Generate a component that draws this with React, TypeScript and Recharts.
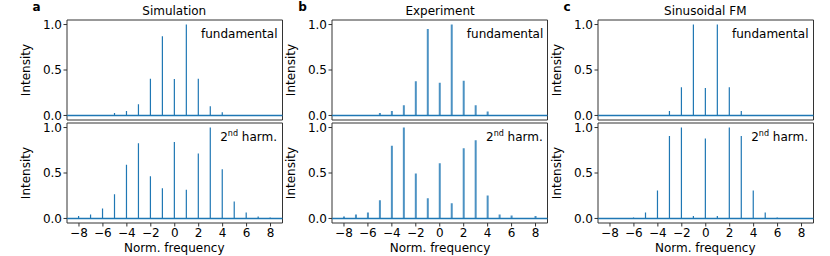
import React from 'react';
import { ComposedChart, Bar, XAxis, YAxis, ReferenceLine, ReferenceArea } from 'recharts';

const freqs = [-8, -7, -6, -5, -4, -3, -2, -1, 0, 1, 2, 3, 4, 5, 6, 7, 8];

const simFund = [0, 0, 0, 0.026, 0.05, 0.124, 0.405, 0.872, 0.4, 1.0, 0.405, 0.1, 0.036, 0, 0, 0, 0];
const simHarm = [0.026, 0.044, 0.11, 0.267, 0.59, 0.828, 0.465, 0.333, 0.84, 0.315, 0.714, 1.0, 0.54, 0.187, 0.066, 0.022, 0.01];
const expFund = [0, 0, 0, 0.026, 0.05, 0.113, 0.376, 0.95, 0.36, 1.0, 0.383, 0.113, 0.044, 0, 0, 0, 0];
const expHarm = [0.022, 0.044, 0.066, 0.2, 0.8, 1.0, 0.494, 0.223, 0.608, 0.168, 0.773, 0.86, 0.253, 0.044, 0.033, 0, 0.026];
const fmFund = [0, 0, 0, 0, 0, 0.05, 0.31, 1.0, 0.303, 1.0, 0.31, 0.05, 0, 0, 0, 0, 0];
const fmHarm = [0, 0, 0.01, 0.066, 0.308, 0.908, 1.0, 0.026, 0.88, 0.026, 1.0, 0.908, 0.308, 0.066, 0.01, 0, 0];

const xTicks = [-8, -6, -4, -2, 0, 2, 4, 6, 8];
const yTicks = [0, 0.5, 1];
const titles = ['Simulation', 'Experiment', 'Sinusoidal FM'];
const letters = ['a', 'b', 'c'];
const yLabel = 'Intensity';
const xLabel = 'Norm. frequency';
const topNote = 'fundamental';

const FONT = '"DejaVu Sans", sans-serif';
const BLUE = '#1f77b4';
const SPINE = '#333';

const PANEL_LEFTS = [66.5, 332.3, 597.5];
const PLOT_W = 215.5;
const PLOT_H = 100;
const ROW_TOPS = [19.8, 122.8];

function Panel({ values, left, top, bottomRow, stemWidth, stemOpacity }: any) {
  const data = freqs.map((f, i) => ({ f, v: values[i] }));
  const M = 2;
  const YW = 60;
  const xh = bottomRow ? 22 : 0;
  return (
    <div style={{ position: 'absolute', left: left - YW - M, top: top - M }}>
      <ComposedChart
        width={YW + PLOT_W + 2 * M}
        height={PLOT_H + 2 * M + xh}
        data={data}
        margin={{ top: M, right: M, bottom: M, left: M }}
      >
        <XAxis
          dataKey="f"
          type="number"
          domain={[-9, 9]}
          ticks={xTicks}
          interval={0}
          allowDataOverflow
          hide={!bottomRow}
          height={xh}
          tickSize={3.5}
          tickMargin={1.5}
          axisLine={false}
          tickLine={{ stroke: SPINE }}
          tick={{ fontSize: 12, fill: '#000', fontFamily: FONT }}
          tickFormatter={(v: number) => String(v).replace('-', '\u2212')}
        />
        <YAxis
          type="number"
          domain={[-0.05, 1.05]}
          ticks={yTicks}
          interval={0}
          allowDataOverflow
          width={YW}
          tickSize={3.5}
          tickMargin={1.5}
          axisLine={false}
          tickLine={{ stroke: SPINE }}
          tick={{ fontSize: 12, fill: '#000', fontFamily: FONT }}
          tickFormatter={(v: number) => v.toFixed(1)}
        />
        <ReferenceLine y={0} stroke={BLUE} strokeWidth={1.5} ifOverflow="visible" />
        <Bar dataKey="v" fill={BLUE} fillOpacity={stemOpacity} barSize={stemWidth} isAnimationActive={false} />
        <ReferenceArea x1={-9} x2={9} y1={-0.05} y2={1.05} fill="none" fillOpacity={0} stroke={SPINE} strokeWidth={1} ifOverflow="visible" />
      </ComposedChart>
    </div>
  );
}

const textBase: React.CSSProperties = {
  position: 'absolute',
  fontFamily: FONT,
  fontSize: 12,
  lineHeight: '14px',
  color: '#000',
  whiteSpace: 'nowrap',
};

export default function App() {
  const rows = [
    [simFund, expFund, fmFund],
    [simHarm, expHarm, fmHarm],
  ];
  return (
    <div style={{ position: 'absolute', left: 0, top: 0, width: 830, height: 256, background: '#fff', overflow: 'hidden' }}>
      {rows.map((row, r) =>
        row.map((vals, c) => (
          <Panel
            key={`${r}-${c}`}
            values={vals}
            left={PANEL_LEFTS[c]}
            top={ROW_TOPS[r]}
            bottomRow={r === 1}
            stemWidth={c === 1 ? 2 : 1.2}
            stemOpacity={c === 1 ? 0.8 : 1}
          />
        ))
      )}
      {PANEL_LEFTS.map((pl, c) => (
        <React.Fragment key={`t${c}`}>
          <div style={{ ...textBase, left: pl, width: PLOT_W, top: 4, textAlign: 'center' }}>{titles[c]}</div>
          <div style={{ ...textBase, left: pl - 34, top: 0, fontWeight: 'bold' }}>{letters[c]}</div>
          <div style={{ ...textBase, left: pl, width: PLOT_W - 4.5, top: ROW_TOPS[0] + 7, textAlign: 'right' }}>{topNote}</div>
          <div style={{ ...textBase, left: pl, width: PLOT_W - 5, top: ROW_TOPS[1] + 7, textAlign: 'right' }}>
            2<sup style={{ fontSize: 8, verticalAlign: 'top', position: 'relative', top: -3 }}>nd</sup> harm.
          </div>
          {ROW_TOPS.map((rt, r) => (
            <div
              key={`y${r}`}
              style={{
                ...textBase,
                left: pl - 41 - 50,
                width: 100,
                top: rt + PLOT_H / 2 - 7,
                textAlign: 'center',
                transform: 'rotate(-90deg)',
              }}
            >
              {yLabel}
            </div>
          ))}
          <div style={{ ...textBase, left: pl, width: PLOT_W, top: 241, textAlign: 'center' }}>{xLabel}</div>
        </React.Fragment>
      ))}
    </div>
  );
}
